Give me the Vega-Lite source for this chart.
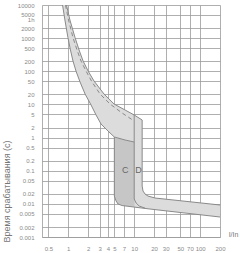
{
  "$schema": "https://vega.github.io/schema/vega-lite/v6.json",
  "width": 178,
  "height": 232,
  "autosize": {"type": "none"},
  "padding": {"left": 42, "top": 5, "right": 20, "bottom": 16},
  "background": "white",
  "config": {"view": {"stroke": null}, "font": "Liberation Sans"},
  "datasets": {
    "light": [
      {"i": 1, "x": 0.82, "t": 10000}, {"i": 2, "x": 0.89, "t": 3530}, {"i": 3, "x": 0.99, "t": 1030},
      {"i": 4, "x": 1.08, "t": 440}, {"i": 5, "x": 1.18, "t": 204}, {"i": 6, "x": 1.31, "t": 102},
      {"i": 7, "x": 1.51, "t": 47.5}, {"i": 8, "x": 1.8, "t": 20.6}, {"i": 9, "x": 2.22, "t": 9.6},
      {"i": 10, "x": 2.64, "t": 4.8}, {"i": 11, "x": 3.14, "t": 2.57}, {"i": 12, "x": 4.0, "t": 1.58},
      {"i": 13, "x": 5, "t": 1.04}, {"i": 14, "x": 7.27, "t": 0.844}, {"i": 15, "x": 10, "t": 0.735},
      {"i": 16, "x": 10, "t": 0.008}, {"i": 17, "x": 17.4, "t": 0.00698}, {"i": 18, "x": 200, "t": 0.00401},
      {"i": 19, "x": 200, "t": 0.00923}, {"i": 20, "x": 20.7, "t": 0.015}, {"i": 21, "x": 16.2, "t": 0.0172},
      {"i": 22, "x": 14.6, "t": 0.0198}, {"i": 23, "x": 13.6, "t": 0.0244}, {"i": 24, "x": 13.2, "t": 0.0345},
      {"i": 25, "x": 13.2, "t": 3.39}, {"i": 26, "x": 10, "t": 4.8}, {"i": 27, "x": 7.27, "t": 6.79},
      {"i": 28, "x": 4.95, "t": 10.3}, {"i": 29, "x": 3.49, "t": 20.6}, {"i": 30, "x": 2.46, "t": 50.9},
      {"i": 31, "x": 2.0, "t": 102}, {"i": 32, "x": 1.68, "t": 204}, {"i": 33, "x": 1.46, "t": 438},
      {"i": 34, "x": 1.27, "t": 1030}, {"i": 35, "x": 1.06, "t": 3530}, {"i": 36, "x": 0.94, "t": 10000}
    ],
    "dark": [
      {"i": 1, "x": 5, "t": 1.04}, {"i": 2, "x": 7.27, "t": 0.844}, {"i": 3, "x": 10, "t": 0.735},
      {"i": 4, "x": 10, "t": 0.008}, {"i": 5, "x": 6.55, "t": 0.0089}, {"i": 6, "x": 5.69, "t": 0.0099},
      {"i": 7, "x": 5.31, "t": 0.0122}, {"i": 8, "x": 5, "t": 0.0172}
    ],
    "outline": [
      {"s": "L", "i": 1, "x": 0.82, "t": 10000}, {"s": "L", "i": 2, "x": 0.89, "t": 3530}, {"s": "L", "i": 3, "x": 0.99, "t": 1030},
      {"s": "L", "i": 4, "x": 1.08, "t": 440}, {"s": "L", "i": 5, "x": 1.18, "t": 204}, {"s": "L", "i": 6, "x": 1.31, "t": 102},
      {"s": "L", "i": 7, "x": 1.51, "t": 47.5}, {"s": "L", "i": 8, "x": 1.8, "t": 20.6}, {"s": "L", "i": 9, "x": 2.22, "t": 9.6},
      {"s": "L", "i": 10, "x": 2.64, "t": 4.8}, {"s": "L", "i": 11, "x": 3.14, "t": 2.57}, {"s": "L", "i": 12, "x": 4.0, "t": 1.58},
      {"s": "L", "i": 13, "x": 5, "t": 1.04}, {"s": "L", "i": 14, "x": 7.27, "t": 0.844}, {"s": "L", "i": 15, "x": 10, "t": 0.735},
      {"s": "U", "i": 1, "x": 0.94, "t": 10000}, {"s": "U", "i": 2, "x": 1.06, "t": 3530}, {"s": "U", "i": 3, "x": 1.27, "t": 1030},
      {"s": "U", "i": 4, "x": 1.46, "t": 438}, {"s": "U", "i": 5, "x": 1.68, "t": 204}, {"s": "U", "i": 6, "x": 2.0, "t": 102},
      {"s": "U", "i": 7, "x": 2.46, "t": 50.9}, {"s": "U", "i": 8, "x": 3.49, "t": 20.6}, {"s": "U", "i": 9, "x": 4.95, "t": 10.3},
      {"s": "U", "i": 10, "x": 7.27, "t": 6.79}, {"s": "U", "i": 11, "x": 10, "t": 4.8}, {"s": "U", "i": 12, "x": 13.2, "t": 3.39},
      {"s": "U", "i": 13, "x": 13.2, "t": 0.0345}, {"s": "U", "i": 14, "x": 13.6, "t": 0.0244}, {"s": "U", "i": 15, "x": 14.6, "t": 0.0198},
      {"s": "U", "i": 16, "x": 16.2, "t": 0.0172}, {"s": "U", "i": 17, "x": 20.7, "t": 0.015}, {"s": "U", "i": 18, "x": 200, "t": 0.00923},
      {"s": "D", "i": 1, "x": 10, "t": 4.8}, {"s": "D", "i": 2, "x": 10, "t": 0.014}, {"s": "D", "i": 3, "x": 10.7, "t": 0.0106},
      {"s": "D", "i": 4, "x": 11.9, "t": 0.0086}, {"s": "D", "i": 5, "x": 14.6, "t": 0.0074},
      {"s": "B", "i": 1, "x": 5, "t": 1.04}, {"s": "B", "i": 2, "x": 5, "t": 0.0172}, {"s": "B", "i": 3, "x": 5.31, "t": 0.0122},
      {"s": "B", "i": 4, "x": 5.69, "t": 0.0099}, {"s": "B", "i": 5, "x": 6.55, "t": 0.0089}, {"s": "B", "i": 6, "x": 10, "t": 0.008},
      {"s": "B", "i": 7, "x": 17.4, "t": 0.00698}, {"s": "B", "i": 8, "x": 200, "t": 0.00401}
    ],
    "dashed": [
      {"i": 1, "x": 0.909, "t": 10000}, {"i": 2, "x": 1.01, "t": 3530}, {"i": 3, "x": 1.181, "t": 1030},
      {"i": 4, "x": 1.359, "t": 438}, {"i": 5, "x": 1.563, "t": 204}, {"i": 6, "x": 1.861, "t": 102},
      {"i": 7, "x": 2.295, "t": 47.5}, {"i": 8, "x": 3.036, "t": 20.6}, {"i": 9, "x": 4.3, "t": 10.3},
      {"i": 10, "x": 6.55, "t": 5.51}, {"i": 11, "x": 10, "t": 3.16}
    ],
    "labels": [
      {"x": 7.3, "t": 0.105, "label": "C"},
      {"x": 11.6, "t": 0.105, "label": "D"}
    ]
  },
  "encoding": {
    "x": {
      "field": "x", "type": "quantitative",
      "scale": {"type": "log", "domain": [0.4, 200], "nice": false},
      "axis": {
        "values": [0.5, 1, 2, 3, 4, 5, 7, 10, 20, 30, 50, 70, 100, 200],
        "labelExpr": "datum.value + ''",
        "grid": true, "gridColor": "#9a9a9a", "gridWidth": 0.8,
        "ticks": false, "domain": true, "domainColor": "#9a9a9a", "domainWidth": 0.8,
        "labelFontSize": 6, "labelColor": "#8a8a8a", "labelPadding": 8,
        "labelOverlap": false, "labelFlush": false,
        "title": "I/In", "titleFontSize": 7, "titleFontWeight": "normal", "titleColor": "#777777",
        "titleX": 191, "titleY": -3, "titleAlign": "center", "titleBaseline": "middle"
      }
    },
    "y": {
      "field": "t", "type": "quantitative",
      "scale": {"type": "log", "domain": [0.001, 10000], "nice": false},
      "axis": {
        "values": [0.001, 0.002, 0.005, 0.01, 0.02, 0.05, 0.1, 0.2, 0.5, 1, 2, 5, 10, 20, 50, 100, 200, 500, 1000, 2000, 3600, 5000, 10000],
        "labelExpr": "datum.value == 3600 ? '1h' : datum.value + ''",
        "grid": true, "gridColor": "#9a9a9a", "gridWidth": 0.8,
        "gridOpacity": {"condition": {"test": "datum.value == 3600", "value": 0}, "value": 1},
        "ticks": false, "domain": true, "domainColor": "#9a9a9a", "domainWidth": 0.8,
        "labelFontSize": 6, "labelColor": "#8a8a8a", "labelPadding": 8, "labelOverlap": false,
        "title": "Время срабатывания (с)", "titleFontSize": 9, "titleFontWeight": "normal", "titleColor": "#777777",
        "titleX": -36, "titleY": 186, "titleAngle": -90, "titleAlign": "center", "titleBaseline": "middle"
      }
    }
  },
  "layer": [
    {"data": {"name": "light"}, "mark": {"type": "line", "fill": "#dcdcdc", "stroke": null, "clip": true}, "encoding": {"order": {"field": "i"}}},
    {"data": {"name": "dark"}, "mark": {"type": "line", "fill": "#c6c6c6", "stroke": null, "clip": true}, "encoding": {"order": {"field": "i"}}},
    {"data": {"name": "outline"}, "mark": {"type": "line", "stroke": "#8a8a8a", "strokeWidth": 1, "clip": true}, "encoding": {"detail": {"field": "s"}, "order": {"field": "i"}}},
    {"data": {"name": "dashed"}, "mark": {"type": "line", "stroke": "#8a8a8a", "strokeWidth": 1, "strokeDash": [4, 3], "clip": true}, "encoding": {"order": {"field": "i"}}},
    {"data": {"name": "labels"}, "mark": {"type": "text", "fontSize": 9, "fill": "#666666"}, "encoding": {"text": {"field": "label"}}}
  ]
}
